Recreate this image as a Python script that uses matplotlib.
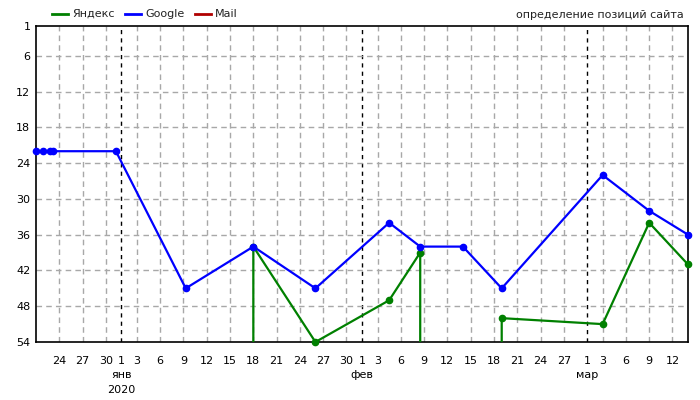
import numpy as np
import matplotlib
matplotlib.use('Agg')
import matplotlib.pyplot as plt
from matplotlib.lines import Line2D
from matplotlib.transforms import blended_transform_factory
from datetime import datetime, timedelta

plt.rcParams['font.family'] = ['DejaVu Sans']
plt.rcParams['font.size'] = 8

OUT = 100  # сайт вне топ-54

# Google
google_dates = ['2019-12-21 00:00', '2019-12-21 21:00', '2019-12-22 19:00', '2019-12-23 05:00',
                '2019-12-31 07:00', '2020-01-09 07:00', '2020-01-18 00:00', '2020-01-26 00:00',
                '2020-02-04 12:00', '2020-02-08 12:00', '2020-02-14 00:00', '2020-02-19 00:00',
                '2020-03-03 00:00', '2020-03-09 00:00', '2020-03-14 00:00']
google_pos = [22, 22, 22, 22, 22, 45, 38, 45, 34, 38, 38, 45, 26, 32, 36]

# Яндекс (np.nan - разрыв линии)
yandex_dates = ['2020-01-18 00:00', '2020-01-18 00:00', '2020-01-26 00:00', '2020-02-04 12:00',
                '2020-02-08 12:00', '2020-02-08 12:00', '2020-02-14 00:00', '2020-02-19 00:00',
                '2020-02-19 00:00', '2020-03-03 00:00', '2020-03-09 00:00', '2020-03-14 00:00']
yandex_pos = [OUT, 38, 54, 47, 39, OUT, np.nan, OUT, 50, 51, 34, 41]

# Mail - нет данных
mail_dates = []
mail_pos = []

series = [('Яндекс', '#008000', yandex_dates, yandex_pos),
          ('Google', '#0000ff', google_dates, google_pos),
          ('Mail', '#b00000', mail_dates, mail_pos)]

y_ticks = [1, 6, 12, 18, 24, 30, 36, 42, 48, 54]
month_names = {12: 'дек', 1: 'янв', 2: 'фев', 3: 'мар'}

start = datetime(2019, 12, 21)
end = datetime(2020, 3, 14)

fig = plt.figure(figsize=(7, 4), dpi=100)
ax = fig.add_axes([36 / 700, 1 - 342 / 400, 652 / 700, 316 / 400])

# деления по оси X: 1-е число и каждые 3 дня
tick_dates = []
d = start + timedelta(days=1)
while d < end:
    if d.day == 1 or d.day % 3 == 0:
        tick_dates.append(d)
    d += timedelta(days=1)

for td in tick_dates:
    if td.day == 1:
        ax.axvline(td, color='black', lw=1, ls=(0, (3, 3)), zorder=1)
    else:
        ax.axvline(td, color='#a8a8a8', lw=1, ls=(0, (4, 3)), zorder=1)
for yt in y_ticks[1:-1]:
    ax.axhline(yt, color='#a8a8a8', lw=1, ls=(0, (4, 3)), zorder=1)

for name, color, dates, pos in series:
    if not dates:
        continue
    x = [datetime.fromisoformat(s) for s in dates]
    y = np.array(pos, dtype=float)
    ax.plot(x, y, color=color, lw=1.6, zorder=3)
    vis = y <= 54
    ax.plot(np.array(x)[vis], y[vis], 'o', color=color, ms=4.5, zorder=4, clip_on=False)

ax.set_xlim(start, end)
ax.set_ylim(54, 1)
ax.set_yticks(y_ticks)
ax.set_xticks(tick_dates)
ax.set_xticklabels([str(td.day) for td in tick_dates])
ax.tick_params(length=0, pad=4, labelsize=8, colors='black')
ax.tick_params(axis='x', pad=10)
for sp in ax.spines.values():
    sp.set_color('black')
    sp.set_linewidth(1.2)

# подписи месяцев и года
trans = blended_transform_factory(ax.transData, fig.transFigure)
for td in tick_dates:
    if td.day == 1:
        ax.text(td, 1 - 375 / 400, month_names[td.month], transform=trans, ha='center', va='center',
                fontsize=8)
        if td.month == 1:
            ax.text(td, 1 - 390 / 400, str(td.year), transform=trans, ha='center', va='center',
                    fontsize=8)

# легенда
lx = 52
for name, color, _, _ in series:
    fig.add_artist(Line2D([lx / 700, (lx + 16) / 700], [1 - 14 / 400] * 2, color=color, lw=2))
    fig.text((lx + 20) / 700, 1 - 14 / 400, name, fontsize=8, va='center', ha='left', color='#222222')
    lx += {'Яндекс': 73, 'Google': 70, 'Mail': 60}[name]

fig.text(684 / 700, 1 - 15 / 400, 'определение позиций сайта', fontsize=8, ha='right', va='center',
         color='#222222')

fig.savefig('out.png', dpi=100)
